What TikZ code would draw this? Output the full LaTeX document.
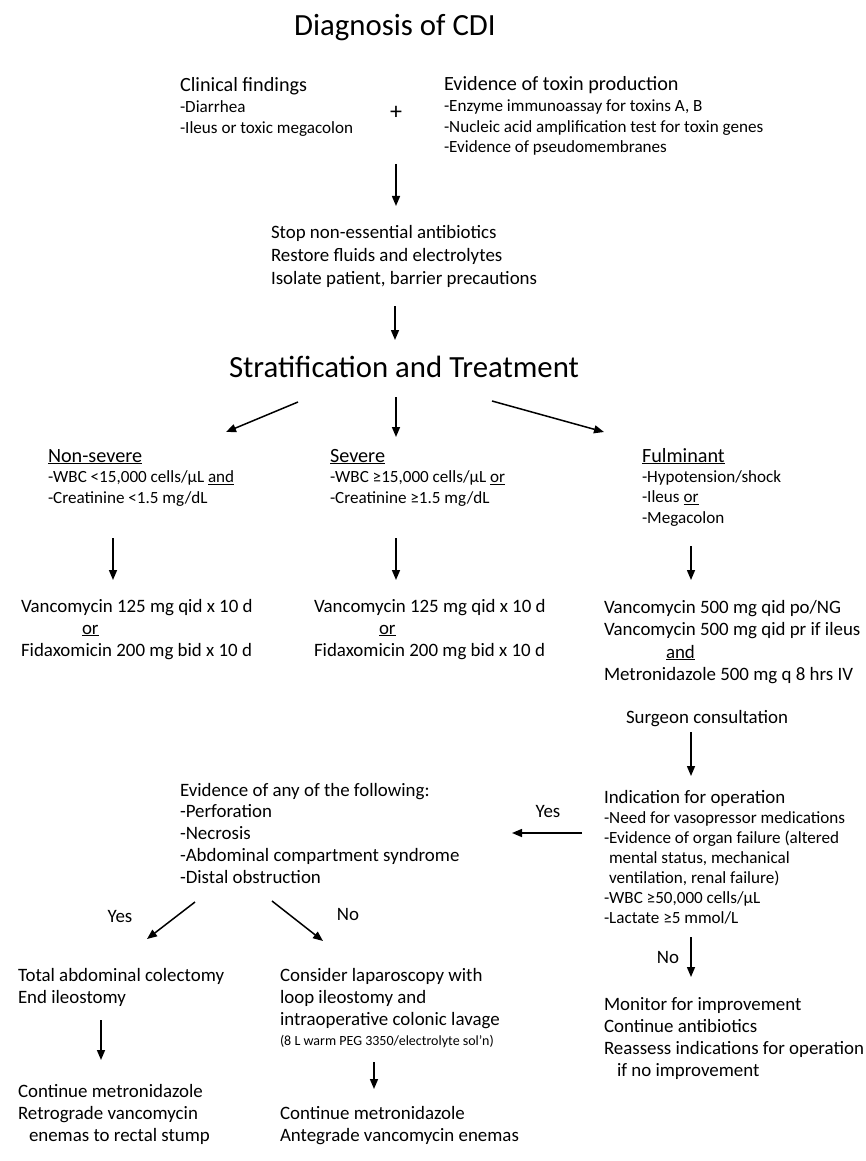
\documentclass[tikz,border=0pt]{standalone}
\usepackage{fontspec}
\setmainfont{Carlito}
\usetikzlibrary{arrows.meta}
\begin{document}
\begin{tikzpicture}[x=1pt,y=-1pt,
  every node/.style={inner sep=0pt, outer sep=0pt},
  % multi-line nodes: the base anchor sits on the LAST line's baseline
  hd/.style={anchor=base west, align=left, font=\fontsize{20.2}{24}\selectfont},
  body/.style={anchor=base west, align=left, font=\fontsize{18.9}{21.5}\selectfont},
  lst/.style={anchor=base west, align=left, font=\fontsize{17.1}{20.5}\selectfont},
  title/.style={anchor=base, font=\fontsize{30.8}{34}\selectfont},
  lbl/.style={anchor=base, font=\fontsize{18.9}{21}\selectfont},
  arr/.style={-{Triangle[length=10pt,width=8pt]}, line width=1.5pt}]
\useasboundingbox (0,0) rectangle (866,1161);

% --- diagnosis
\node[title] (diag) at (395,36) {Diagnosis of CDI};
\node[hd] (clinh) at (180,92) {Clinical findings};
\node[lst, font=\fontsize{17.1}{21}\selectfont] (clin) at (180,134) {-Diarrhea\\-Ileus or toxic megacolon};
\node[anchor=center, font=\fontsize{24}{26}\selectfont] (plus) at (396,113) {+};
\node[hd] (toxh) at (444,91) {Evidence of toxin production};
\node[lst, font=\fontsize{17.1}{20.5}\selectfont] (tox) at (444,153) {-Enzyme immunoassay for toxins A, B\\-Nucleic acid amplification test for toxin genes\\-Evidence of pseudomembranes};
\coordinate (a1s) at (396,164); \coordinate (a1e) at (396,206);
\draw[arr] (a1s) -- (a1e);
\node[body, font=\fontsize{18.9}{23}\selectfont] (stop) at (271,284) {Stop non-essential antibiotics\\Restore fluids and electrolytes\\Isolate patient, barrier precautions};
\coordinate (a2s) at (395,306); \coordinate (a2e) at (395,340);
\draw[arr] (a2s) -- (a2e);
\node[anchor=base west, font=\fontsize{30.8}{34}\selectfont] (strat) at (229,377) {Stratification and Treatment};

% --- three branches
\coordinate (b1s) at (298,402); \coordinate (b1e) at (226,432);
\coordinate (b2s) at (396,397); \coordinate (b2e) at (396,437);
\coordinate (b3s) at (492,401); \coordinate (b3e) at (604,432);
\draw[arr] (b1s) -- (b1e);
\draw[arr] (b2s) -- (b2e);
\draw[arr] (b3s) -- (b3e);

\node[hd] (nsh) at (48,462) {\underline{Non-severe}};
\node[lst] (ns) at (48,503) {-WBC <15,000 cells/μL \underline{and}\\-Creatinine <1.5 mg/dL};
\node[hd] (svh) at (330,462) {\underline{Severe}};
\node[lst] (sv) at (330,503) {-WBC ≥15,000 cells/μL \underline{or}\\-Creatinine ≥1.5 mg/dL};
\node[hd] (fuh) at (642,462) {\underline{Fulminant}};
\node[lst] (fu) at (642,523) {-Hypotension/shock\\-Ileus \underline{or}\\-Megacolon};

\coordinate (c1s) at (113,538); \coordinate (c1e) at (113,580);
\coordinate (c2s) at (396,538); \coordinate (c2e) at (396,580);
\coordinate (c3s) at (691,546); \coordinate (c3e) at (691,580);
\draw[arr] (c1s) -- (c1e);
\draw[arr] (c2s) -- (c2e);
\draw[arr] (c3s) -- (c3e);

\node[body, font=\fontsize{18.9}{22}\selectfont] (nst) at (21,656) {Vancomycin 125 mg qid x 10 d\\\hspace*{61pt}\underline{or}\\Fidaxomicin 200 mg bid x 10 d};
\node[body, font=\fontsize{18.9}{22}\selectfont] (svt) at (314,656) {Vancomycin 125 mg qid x 10 d\\\hspace*{65pt}\underline{or}\\Fidaxomicin 200 mg bid x 10 d};
\node[body, font=\fontsize{18.9}{22.5}\selectfont] (fut) at (604,680.5) {Vancomycin 500 mg qid po/NG\\Vancomycin 500 mg qid pr if ileus\\\hspace*{62pt}\underline{and}\\Metronidazole 500 mg q 8 hrs IV};

\node[body] (surg) at (626,723) {Surgeon consultation};
\coordinate (d1s) at (691,732); \coordinate (d1e) at (691,776);
\draw[arr] (d1s) -- (d1e);

% --- indication for operation
\node[body] (indh) at (604,803) {Indication for operation};
\node[lst, font=\fontsize{17.1}{20}\selectfont] (ind) at (604,923) {-Need for vasopressor medications\\-Evidence of organ failure (altered\\\hspace*{5pt}mental status, mechanical\\\hspace*{5pt}ventilation, renal failure)\\-WBC ≥50,000 cells/μL\\-Lactate ≥5 mmol/L};
\node[lbl] (yes1) at (548,817) {Yes};
\coordinate (e1s) at (582,833); \coordinate (e1e) at (512,833);
\draw[arr] (e1s) -- (e1e);

\node[body, font=\fontsize{18.9}{21.75}\selectfont] (evid) at (180,883) {Evidence of any of the following:\\-Perforation\\-Necrosis\\-Abdominal compartment syndrome\\-Distal obstruction};

\coordinate (f1s) at (195,902); \coordinate (f1e) at (147,939);
\coordinate (f2s) at (272,901); \coordinate (f2e) at (323,941);
\draw[arr] (f1s) -- (f1e);
\draw[arr] (f2s) -- (f2e);
\node[lbl] (yes2) at (120,922) {Yes};
\node[lbl] (no2) at (348,920) {No};

\node[lbl] (no1) at (668,963) {No};
\coordinate (g1s) at (691,937); \coordinate (g1e) at (691,977);
\draw[arr] (g1s) -- (g1e);

\node[body, font=\fontsize{18.9}{22}\selectfont] (mon) at (604,1076) {Monitor for improvement\\Continue antibiotics\\Reassess indications for operation\\\hspace*{13pt}if no improvement};

% --- surgical outcomes
\node[body, font=\fontsize{18.9}{22}\selectfont] (tac) at (18,1003) {Total abdominal colectomy\\End ileostomy};
\coordinate (h1s) at (101,1020); \coordinate (h1e) at (101,1060);
\draw[arr] (h1s) -- (h1e);
\node[body, font=\fontsize{18.9}{22}\selectfont] (cm1) at (18,1141) {Continue metronidazole\\Retrograde vancomycin\\\hspace*{11pt}enemas to rectal stump};

\node[body, font=\fontsize{18.9}{22}\selectfont] (lap) at (280,1025) {Consider laparoscopy with\\loop ileostomy and\\intraoperative colonic lavage};
\node[anchor=base west, font=\fontsize{14}{16}\selectfont] (peg) at (280,1045) {(8 L warm PEG 3350/electrolyte sol’n)};
\coordinate (h2s) at (374,1062); \coordinate (h2e) at (374,1089);
\draw[arr] (h2s) -- (h2e);
\node[body, font=\fontsize{18.9}{22}\selectfont] (cm2) at (280,1141) {Continue metronidazole\\Antegrade vancomycin enemas};
\end{tikzpicture}
\end{document}
